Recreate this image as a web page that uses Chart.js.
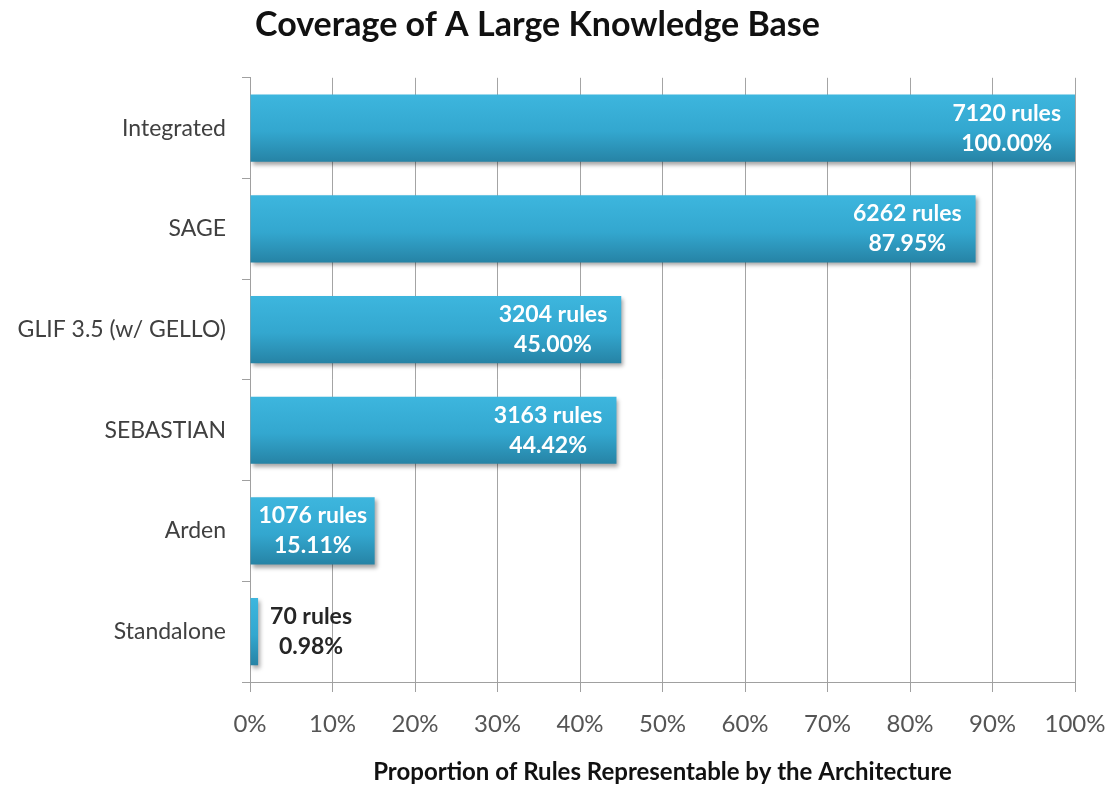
<!DOCTYPE html>
<html>
<head>
<meta charset="utf-8">
<script src="https://cdn.jsdelivr.net/npm/chart.js@4.4.1/dist/chart.umd.min.js"></script>
<style>
  html, body { margin: 0; padding: 0; background: #fff; }
  #wrap { width: 1116px; height: 793px; }
</style>
</head>
<body>
<div id="wrap"><canvas id="coverageChart" width="1116" height="793"></canvas></div>
<script>
const architectures = ['Integrated', 'SAGE', 'GLIF 3.5 (w/ GELLO)', 'SEBASTIAN', 'Arden', 'Standalone'];
const coveragePct = [100.00, 87.95, 45.00, 44.42, 15.11, 0.98];
const ruleCounts = [7120, 6262, 3204, 3163, 1076, 70];
const xTicks = [0, 10, 20, 30, 40, 50, 60, 70, 80, 90, 100];

const FONT = 'Lato, "Open Sans", sans-serif';
const BAR_PCT = 0.667;

function barGradient(context) {
  const chart = context.chart;
  const yScale = chart.scales.y;
  if (!yScale || context.dataIndex === undefined) return '#35a9d2';
  const center = yScale.getPixelForValue(context.dataIndex);
  const half = (yScale.height / architectures.length) * BAR_PCT / 2;
  if (!Number.isFinite(center) || !Number.isFinite(half) || half <= 0) return '#35a9d2';
  const g = chart.ctx.createLinearGradient(0, center - half, 0, center + half);
  g.addColorStop(0, '#3db6de');
  g.addColorStop(0.55, '#33a7cf');
  g.addColorStop(1, '#2683a5');
  return g;
}

const barShadow = {
  id: 'barShadow',
  beforeDatasetsDraw(chart) {
    const ctx = chart.ctx;
    ctx.save();
    ctx.shadowColor = 'rgba(0, 0, 0, 0.35)';
    ctx.shadowBlur = 4;
    ctx.shadowOffsetX = 2;
    ctx.shadowOffsetY = 3;
  },
  afterDatasetsDraw(chart) {
    chart.ctx.restore();
  }
};

const ruleLabels = {
  id: 'ruleLabels',
  afterDatasetsDraw(chart) {
    const ctx = chart.ctx;
    const meta = chart.getDatasetMeta(0);
    ctx.save();
    ctx.font = 'bold 23px ' + FONT;
    ctx.textAlign = 'center';
    ctx.textBaseline = 'middle';
    meta.data.forEach((bar, i) => {
      const line1 = ruleCounts[i] + ' rules';
      const line2 = coveragePct[i].toFixed(2) + '%';
      const w = Math.max(ctx.measureText(line1).width, ctx.measureText(line2).width);
      const start = bar.base;
      const end = bar.x;
      let cx;
      let color = '#ffffff';
      if (end - start < w) {
        cx = end + 12 + w / 2;
        color = '#262626';
      } else {
        cx = end - 14 - w / 2;
        if (cx - w / 2 < start + 8) cx = start + 8 + w / 2;
      }
      ctx.fillStyle = color;
      ctx.fillText(line1, cx, bar.y - 15);
      ctx.fillText(line2, cx, bar.y + 15);
    });
    ctx.restore();
  }
};

new Chart(document.getElementById('coverageChart'), {
  type: 'bar',
  data: {
    labels: architectures,
    datasets: [{
      data: coveragePct,
      backgroundColor: barGradient,
      borderWidth: 0,
      categoryPercentage: 1,
      barPercentage: BAR_PCT
    }]
  },
  options: {
    indexAxis: 'y',
    responsive: false,
    animation: false,
    layout: { padding: { left: 0, right: 41, top: 0, bottom: 0 } },
    plugins: {
      legend: { display: false },
      tooltip: { enabled: false },
      title: {
        display: true,
        text: 'Coverage of A Large Knowledge Base',
        color: '#111',
        font: { family: FONT, size: 34, weight: 'bold' },
        padding: { top: 5, bottom: 32 }
      }
    },
    scales: {
      x: {
        min: 0,
        max: 100,
        afterBuildTicks(scale) {
          scale.ticks = xTicks.map(v => ({ value: v }));
        },
        afterFit(scale) {
          scale.height = 111;
          scale.paddingLeft = 0;
          scale.paddingRight = 0;
        },
        grid: {
          color: '#a4a4a4',
          lineWidth: 1,
          drawTicks: true,
          tickLength: 10,
          tickColor: '#a0a0a0'
        },
        border: { display: true, color: '#a0a0a0', width: 1 },
        ticks: {
          color: '#555',
          padding: 18,
          maxRotation: 0,
          font: { family: FONT, size: 24 },
          callback: v => v + '%'
        },
        title: {
          display: true,
          text: 'Proportion of Rules Representable by the Architecture',
          color: '#111',
          font: { family: FONT, size: 24, weight: 'bold' },
          padding: { top: 0, bottom: 6 }
        }
      },
      y: {
        afterFit(scale) { scale.width = 250; },
        grid: {
          offset: true,
          drawOnChartArea: false,
          tickLength: 8,
          tickColor: '#a0a0a0'
        },
        border: { display: true, color: '#a0a0a0', width: 1 },
        ticks: {
          color: '#404040',
          padding: 16,
          font: { family: FONT, size: 23 }
        }
      }
    }
  },
  plugins: [barShadow, ruleLabels]
});
</script>
</body>
</html>
